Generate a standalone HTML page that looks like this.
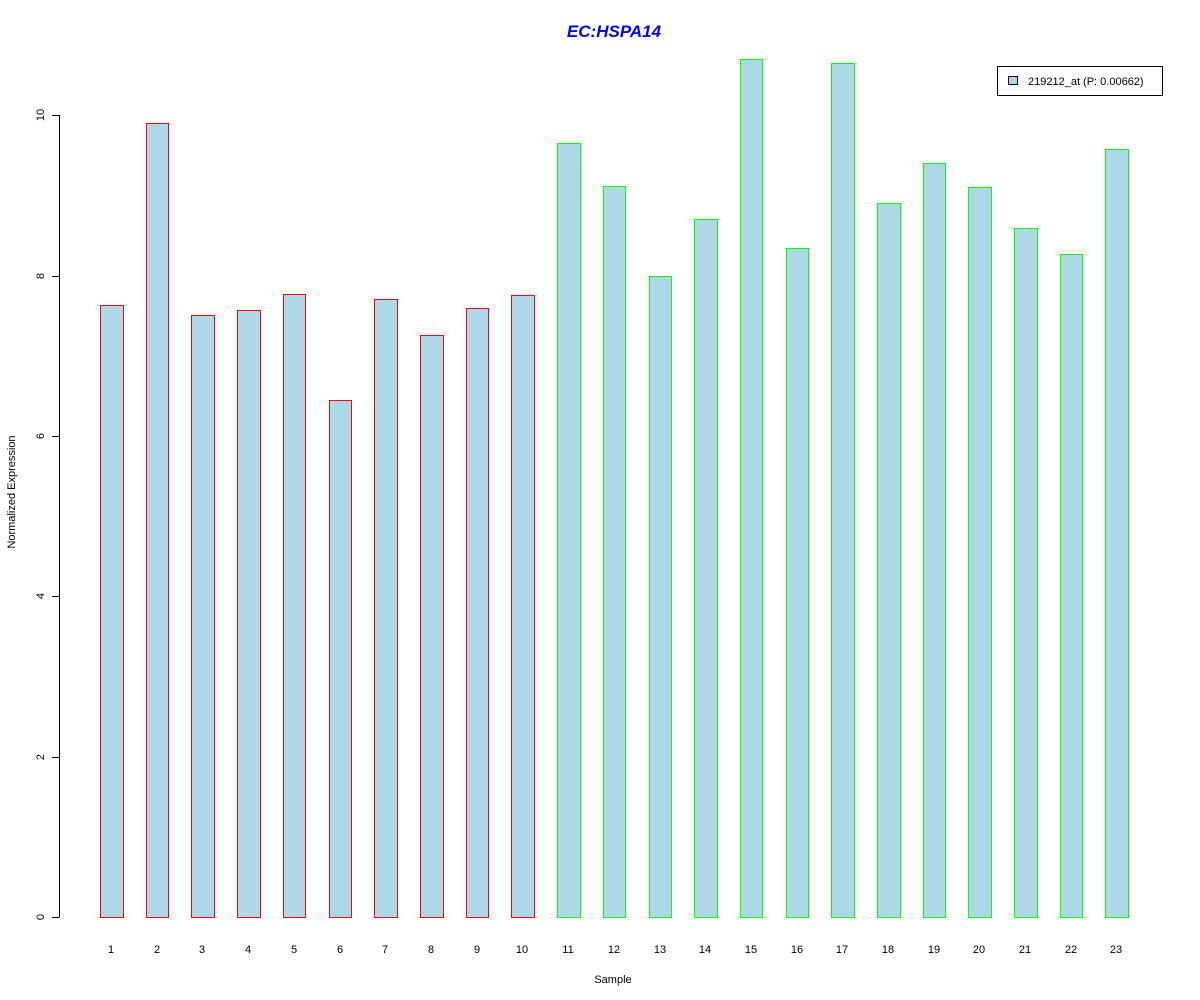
<!DOCTYPE html>
<html><head><style>body{margin:0;background:#fff}svg{display:block}</style></head><body>
<svg width="1200" height="1000" xmlns="http://www.w3.org/2000/svg" font-family="Liberation Sans, sans-serif">
<rect width="1200" height="1000" fill="#fff"/>
<text x="614" y="37" text-anchor="middle" font-size="17" font-weight="bold" font-style="italic" fill="#0000ff">EC:HSPA14</text>
<g stroke="#000" stroke-width="1" shape-rendering="crispEdges">
<line x1="59.5" y1="115" x2="59.5" y2="917"/>
<line x1="52" y1="917.5" x2="59.5" y2="917.5"/>
<line x1="52" y1="757.5" x2="59.5" y2="757.5"/>
<line x1="52" y1="596.5" x2="59.5" y2="596.5"/>
<line x1="52" y1="436.5" x2="59.5" y2="436.5"/>
<line x1="52" y1="276.5" x2="59.5" y2="276.5"/>
<line x1="52" y1="115.5" x2="59.5" y2="115.5"/>
</g>
<g font-size="11" text-anchor="middle">
<text transform="translate(44,917) rotate(-90)">0</text>
<text transform="translate(44,757) rotate(-90)">2</text>
<text transform="translate(44,596) rotate(-90)">4</text>
<text transform="translate(44,436) rotate(-90)">6</text>
<text transform="translate(44,276) rotate(-90)">8</text>
<text transform="translate(44,115) rotate(-90)">10</text>
<text transform="translate(15,492) rotate(-90)">Normalized Expression</text>
<text x="613" y="983">Sample</text>
</g>
<g fill="#add8e6" stroke="#ff0000" stroke-width="1" shape-rendering="crispEdges">
<rect x="100.5" y="305.5" width="23" height="612"/>
<rect x="146.5" y="123.5" width="22" height="794"/>
<rect x="191.5" y="315.5" width="23" height="602"/>
<rect x="237.5" y="310.5" width="23" height="607"/>
<rect x="283.5" y="294.5" width="22" height="623"/>
<rect x="329.5" y="400.5" width="22" height="517"/>
<rect x="374.5" y="299.5" width="23" height="618"/>
<rect x="420.5" y="335.5" width="23" height="582"/>
<rect x="466.5" y="308.5" width="22" height="609"/>
<rect x="511.5" y="295.5" width="23" height="622"/>
</g>
<g fill="#add8e6" stroke="#00ff00" stroke-width="1" shape-rendering="crispEdges">
<rect x="557.5" y="143.5" width="23" height="774"/>
<rect x="603.5" y="186.5" width="22" height="731"/>
<rect x="649.5" y="276.5" width="22" height="641"/>
<rect x="694.5" y="219.5" width="23" height="698"/>
<rect x="740.5" y="59.5" width="22" height="858"/>
<rect x="786.5" y="248.5" width="22" height="669"/>
<rect x="831.5" y="63.5" width="23" height="854"/>
<rect x="877.5" y="203.5" width="23" height="714"/>
<rect x="923.5" y="163.5" width="22" height="754"/>
<rect x="968.5" y="187.5" width="23" height="730"/>
<rect x="1014.5" y="228.5" width="23" height="689"/>
<rect x="1060.5" y="254.5" width="22" height="663"/>
<rect x="1105.5" y="149.5" width="23" height="768"/>
</g>
<g font-size="11" text-anchor="middle">
<text x="111" y="953">1</text><text x="157" y="953">2</text><text x="202" y="953">3</text><text x="248" y="953">4</text><text x="294" y="953">5</text><text x="340" y="953">6</text><text x="385" y="953">7</text><text x="431" y="953">8</text><text x="477" y="953">9</text><text x="522" y="953">10</text><text x="568" y="953">11</text><text x="614" y="953">12</text><text x="660" y="953">13</text><text x="705" y="953">14</text><text x="751" y="953">15</text><text x="797" y="953">16</text><text x="842" y="953">17</text><text x="888" y="953">18</text><text x="934" y="953">19</text><text x="979" y="953">20</text><text x="1025" y="953">21</text><text x="1071" y="953">22</text><text x="1116" y="953">23</text>
</g>
<rect x="997.5" y="66.5" width="165" height="29" fill="#fff" stroke="#000" shape-rendering="crispEdges"/>
<rect x="1008.5" y="76.5" width="9" height="8" fill="#add8e6" stroke="#000" shape-rendering="crispEdges"/>
<text x="1028" y="85" font-size="11">219212_at (P: 0.00662)</text>
</svg>
</body></html>
